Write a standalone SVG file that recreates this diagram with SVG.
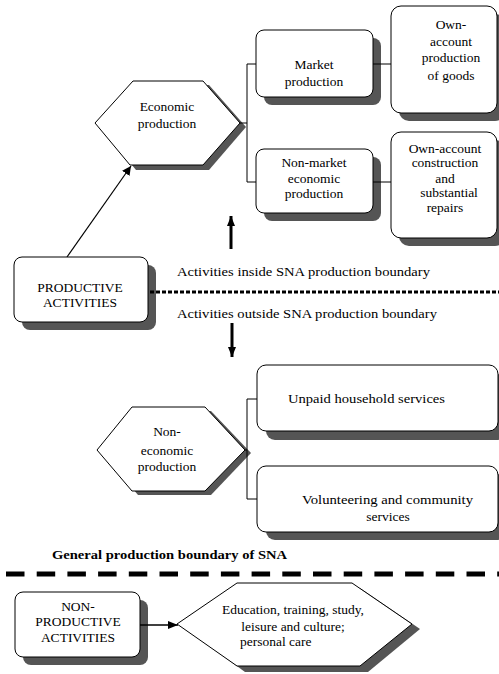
<svg xmlns="http://www.w3.org/2000/svg" width="499" height="674" viewBox="0 0 499 674">
<style>
.bx{fill:#fff;stroke:#000;stroke-width:1}
.ln{fill:none;stroke:#000;stroke-width:1}
text{font-family:'Liberation Serif','Times New Roman',serif;font-size:13.5px;fill:#000}
.t{text-anchor:middle}
.tb{font-weight:bold}
</style>
<defs>
<marker id="ah" viewBox="0 0 10 10" refX="10" refY="5" markerWidth="9" markerHeight="9" markerUnits="userSpaceOnUse" orient="auto"><path d="M0,0 L10,5 L0,10 Z" fill="#000"/></marker>
<marker id="ahb" viewBox="0 0 10 10" refX="10" refY="5" markerWidth="10" markerHeight="10" markerUnits="userSpaceOnUse" orient="auto"><path d="M0,1 L10,5 L0,9 Z" fill="#000"/></marker>
</defs>
<rect width="499" height="674" fill="#fff"/>

<g id="shadows">
<polygon fill="#555555" points="101,127 139,85 209,85 246,127 209,170 136,170"/>
<rect fill="#555555" x="264" y="38" width="117" height="67" rx="8"/>
<rect fill="#555555" x="399" y="14" width="106" height="107" rx="10"/>
<rect fill="#555555" x="264" y="157" width="117" height="64" rx="8"/>
<rect fill="#555555" x="399" y="140" width="106" height="106" rx="10"/>
<rect fill="#555555" x="22" y="265" width="134" height="65" rx="8"/>
<polygon fill="#555555" points="103,453 138,411 211,411 251,453 211,495 138,495"/>
<rect fill="#555555" x="266" y="374" width="240" height="66" rx="9"/>
<rect fill="#555555" x="266" y="474" width="240" height="66" rx="9"/>
<rect fill="#555555" x="23" y="600" width="125" height="65" rx="8"/>
<polygon fill="#555555" points="185,628 245,588 360,588 420,629 368,672 245,672"/>
</g>

<g id="connectors">
<path class="ln" d="M240,123 H247 M247,64 V182 M247,64 H256 M247,182 H256"/>
<path class="ln" d="M373,64 H391 M373,182 H391"/>
<path class="ln" d="M245,450 H247 M247,399 V499 M247,399 H257 M247,499 H257"/>
<line x1="67" y1="257" x2="131" y2="166" stroke="#000" stroke-width="1.2" marker-end="url(#ah)"/>
<line x1="231" y1="249" x2="231" y2="216" stroke="#000" stroke-width="3" marker-end="url(#ahb)"/>
<line x1="232" y1="323" x2="232" y2="357" stroke="#000" stroke-width="3" marker-end="url(#ahb)"/>
<line x1="140" y1="625" x2="178" y2="625" stroke="#000" stroke-width="1.5" marker-end="url(#ahb)"/>
<line x1="150" y1="292" x2="499" y2="292" stroke="#000" stroke-width="3" stroke-dasharray="4 2"/>
<line x1="6" y1="574" x2="499" y2="574" stroke="#000" stroke-width="5" stroke-dasharray="18.5 12.2"/>
</g>

<g id="economic-production">
<polygon class="bx" points="95,123 133,81 203,81 240,123 203,165 130,165"/>
<text class="t" x="167" y="111">Economic</text>
<text class="t" x="167" y="128">production</text>
</g>

<g id="market-production">
<rect class="bx" x="256" y="30" width="117" height="67" rx="8"/>
<text class="t" x="314" y="69">Market</text>
<text class="t" x="314" y="86">production</text>
</g>

<g id="own-account-goods">
<rect class="bx" x="391" y="6" width="106" height="107" rx="10"/>
<text class="t" x="451" y="29">Own-</text>
<text class="t" x="451" y="46">account</text>
<text class="t" x="451" y="62">production</text>
<text class="t" x="451" y="80">of goods</text>
</g>

<g id="non-market-production">
<rect class="bx" x="256" y="149" width="117" height="64" rx="8"/>
<text class="t" x="314" y="167">Non-market</text>
<text class="t" x="314" y="183">economic</text>
<text class="t" x="314" y="198">production</text>
</g>

<g id="own-account-construction">
<rect class="bx" x="391" y="132" width="106" height="106" rx="10"/>
<text class="t" x="445" y="153">Own-account</text>
<text class="t" x="445" y="167">construction</text>
<text class="t" x="445" y="183">and</text>
<text class="t" x="449" y="197">substantial</text>
<text class="t" x="445" y="212">repairs</text>
</g>

<g id="productive-activities">
<rect class="bx" x="14" y="257" width="134" height="65" rx="8"/>
<text class="t" x="80" y="292">PRODUCTIVE</text>
<text class="t" x="80" y="307">ACTIVITIES</text>
</g>

<g id="boundary-labels">
<text x="177" y="276" textLength="253" lengthAdjust="spacingAndGlyphs">Activities inside SNA production boundary</text>
<text x="177" y="318" textLength="260" lengthAdjust="spacingAndGlyphs">Activities outside SNA production boundary</text>
<text class="tb" x="52" y="559" textLength="235" lengthAdjust="spacingAndGlyphs">General production boundary of SNA</text>
</g>

<g id="non-economic-production">
<polygon class="bx" points="97,450 132,407 205,407 245,450 205,491 132,491"/>
<text class="t" x="167" y="436">Non-</text>
<text class="t" x="167" y="455">economic</text>
<text class="t" x="167" y="471">production</text>
</g>

<g id="unpaid-household">
<rect class="bx" x="257" y="365" width="241" height="66" rx="9"/>
<text x="288" y="403" textLength="157" lengthAdjust="spacingAndGlyphs">Unpaid household services</text>
</g>

<g id="volunteering">
<rect class="bx" x="257" y="466" width="241" height="66" rx="9"/>
<text x="302" y="504" textLength="171" lengthAdjust="spacingAndGlyphs">Volunteering and community</text>
<text class="t" x="388" y="521">services</text>
</g>

<g id="non-productive-activities">
<rect class="bx" x="15" y="592" width="125" height="65" rx="8"/>
<text class="t" x="78" y="611">NON-</text>
<text class="t" x="78" y="626">PRODUCTIVE</text>
<text class="t" x="78" y="642">ACTIVITIES</text>
</g>

<g id="education-leisure">
<polygon class="bx" points="177,624 237,583 352,583 412,624 360,666 237,666"/>
<text class="t" x="293" y="614">Education, training, study,</text>
<text class="t" x="293" y="631">leisure and culture;</text>
<text x="240" y="646">personal care</text>
</g>
</svg>
